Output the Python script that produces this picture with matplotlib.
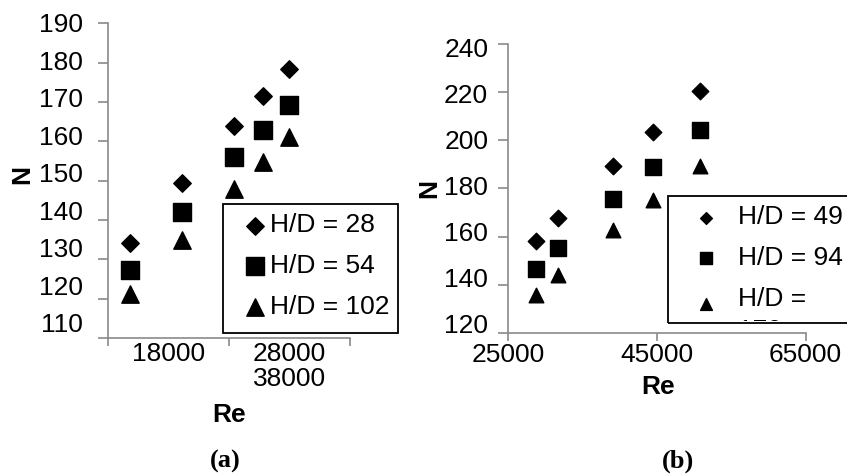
import matplotlib
matplotlib.use('Agg')
import matplotlib.pyplot as plt
from matplotlib.patches import Rectangle
from matplotlib.transforms import Bbox, ScaledTranslation

# panel (a)
re_a = [14800, 19100, 23400, 25800, 28000]
n_a_28 = [134.1, 149.5, 163.8, 171.6, 178.4]
n_a_54 = [127.3, 142.0, 155.9, 162.9, 169.2]
n_a_102 = [121.2, 135.0, 148.0, 154.7, 161.2]
labels_a = ['H/D = 28', 'H/D = 54', 'H/D = 102']

# panel (b)
re_b = [28700, 31700, 39100, 44400, 50800]
n_b_49 = [158.3, 167.9, 189.5, 203.7, 220.6]
n_b_94 = [146.7, 155.1, 175.5, 189.1, 204.4]
n_b_179 = [135.7, 144.0, 162.7, 175.2, 189.5]
labels_b = ['H/D = 49', 'H/D = 94', 'H/D =\n179']

GRAY = '#8a8a8a'
FS = 19
plt.rcParams['font.family'] = ['Liberation Sans', 'DejaVu Sans']


def style_axes(ax, ypad):
    for s in ['top', 'right']:
        ax.spines[s].set_visible(False)
    for s in ['left', 'bottom']:
        ax.spines[s].set_color(GRAY)
        ax.spines[s].set_linewidth(1.2)
    ax.tick_params(axis='y', direction='out', length=7, width=1.2,
                   color=GRAY, labelsize=FS, pad=ypad)
    ax.tick_params(axis='x', which='major', direction='out', length=5.5,
                   width=1.2, color=GRAY, labelsize=FS, pad=2)


def squeeze_ylabels(fig, ax, top_px, bottom_px):
    # the source image has its y tick labels slightly off the tick marks
    labs = ax.get_yticklabels()
    n = len(labs)
    for i, lab in enumerate(labs):
        dy = bottom_px + (top_px - bottom_px) * i / (n - 1)
        lab.set_transform(lab.get_transform() +
                          ScaledTranslation(0, -dy / 100, fig.dpi_scale_trans))


def main():
    fig = plt.figure(figsize=(8.47, 4.75), dpi=100)
    W, H = 847, 475

    # ---- (a) ----
    ax1 = fig.add_axes([0.1272, 0.2884, 0.2861, 0.6626])
    ax1.scatter(re_a, n_a_28, marker='D', s=8.9**2, c='black', label=labels_a[0])
    ax1.scatter(re_a, n_a_54, marker='s', s=13**2, c='black', label=labels_a[1])
    ax1.scatter(re_a, n_a_102, marker='^', s=12.5**2, c='black', label=labels_a[2])
    ax1.set_xlim(13000, 33000)
    ax1.set_ylim(110, 190)
    ax1.set_yticks(range(110, 191, 10))
    ax1.set_xticks([13000, 23000, 33000], labels=['', '', ''])
    ax1.set_xticks([18000, 28000], labels=['18000', '28000\n38000'], minor=True)
    style_axes(ax1, 11)
    ax1.tick_params(axis='x', which='minor', length=0, labelsize=FS, pad=3)
    for t in ax1.get_xticklabels(minor=True):
        t.set_linespacing(1.05)
    squeeze_ylabels(fig, ax1, -0.7, -15.2)
    ax1.set_xlabel('Re', fontsize=FS, fontweight='bold')
    ax1.xaxis.set_label_coords(0.502, -0.205)
    ax1.set_ylabel('N', fontsize=FS, fontweight='bold')
    ax1.yaxis.set_label_coords(-0.305, 0.518)

    ax1.legend(loc='upper left',
               bbox_to_anchor=(244 / W, 1 - 213.5 / H),
               bbox_transform=fig.transFigure,
               frameon=False, fontsize=FS, borderpad=0,
               borderaxespad=0, handlelength=0.8, handletextpad=0.2,
               labelspacing=0.64, scatterpoints=1)
    fig.patches.append(Rectangle((222.7 / W, 1 - 333 / H),
                                 (398.3 - 222.7) / W, (333 - 204) / H,
                                 transform=fig.transFigure, fill=False,
                                 edgecolor='black', linewidth=1.3))

    # ---- (b) ----
    ax2 = fig.add_axes([0.6001, 0.2996, 0.3511, 0.6072])
    ax2.scatter(re_b, n_b_49, marker='D', s=8.4**2, c='black', label=labels_b[0])
    ax2.scatter(re_b, n_b_94, marker='s', s=12**2, c='black', label=labels_b[1])
    ax2.scatter(re_b, n_b_179, marker='^', s=10.5**2, c='black', label=labels_b[2])
    ax2.set_xlim(25000, 65000)
    ax2.set_ylim(120, 240)
    ax2.set_yticks(range(120, 241, 20))
    ax2.set_xticks([25000, 45000, 65000])
    style_axes(ax2, 7.5)
    squeeze_ylabels(fig, ax2, 3.0, -8.7)
    ax2.set_xlabel('Re', fontsize=FS, fontweight='bold')
    ax2.xaxis.set_label_coords(0.504, -0.145)
    ax2.set_ylabel('N', fontsize=FS, fontweight='bold')
    ax2.yaxis.set_label_coords(-0.225, 0.5)

    leg2 = ax2.legend(loc='upper left',
                      bbox_to_anchor=(694 / W, 1 - 205.5 / H),
                      bbox_transform=fig.transFigure,
                      frameon=False, fontsize=FS, borderpad=0,
                      borderaxespad=0, handlelength=0.9, handletextpad=0.78,
                      labelspacing=0.63, scatterpoints=1)
    for h in leg2.legend_handles:
        h.set_sizes([8.5**2])
    leg2.legend_handles[0].set_sizes([6**2])
    # the wrapped third entry: marker sits near the first line
    tri = leg2.legend_handles[2]
    off = tri.get_offsets()
    off[:, 1] += 10
    tri.set_offsets(off)
    clip = Bbox.from_extents(668.3, H - 320.5, 900, H - 196)
    for t in leg2.get_texts():
        t.set_linespacing(1.45)
        t.set_clip_box(clip)
        t.set_clip_on(True)
    fig.patches.append(Rectangle((668.3 / W, 1 - 323.3 / H),
                                 (860 - 668.3) / W, (323.3 - 196) / H,
                                 transform=fig.transFigure, fill=False,
                                 edgecolor='black', linewidth=1.3))

    fig.text(225.7 / W, 1 - 461.7 / H, '(a)', ha='center', va='center',
             fontsize=FS, fontweight='bold', family='Liberation Serif')
    fig.text(678.3 / W, 1 - 461 / H, '(b)', ha='center', va='center',
             fontsize=FS, fontweight='bold', family='Liberation Serif')

    fig.savefig('out.png', dpi=100)


if __name__ == "__main__":
    main()
